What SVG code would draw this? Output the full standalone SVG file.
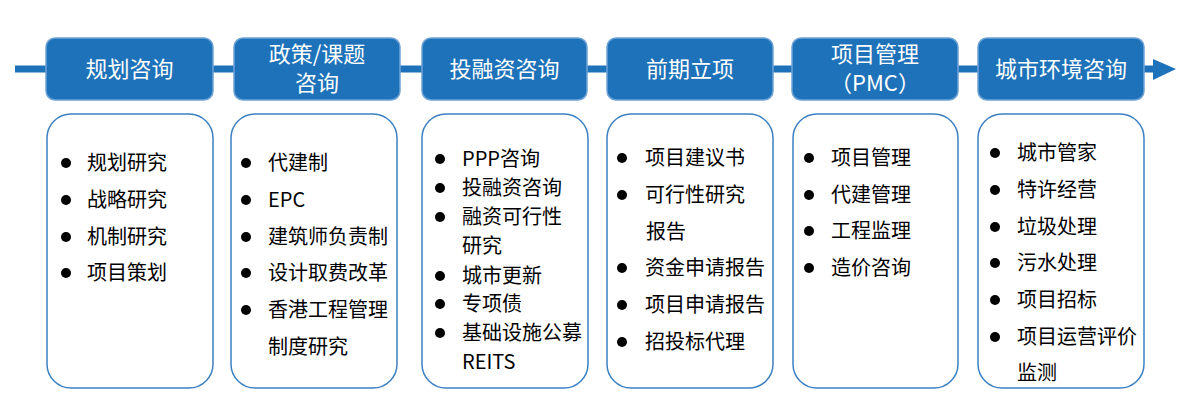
<svg xmlns="http://www.w3.org/2000/svg" width="1185" height="409" viewBox="0 0 1185 409">
<style>
.hd{fill:#1E72B9;stroke:#6FA3D6;stroke-width:1.5}
.bd{fill:#fff;stroke:#3C80C3;stroke-width:1.5}
.ht{font-family:"Noto Sans CJK SC","Microsoft YaHei",sans-serif;font-size:22px;fill:#fff;text-anchor:middle}
.bt{font-family:"Noto Sans CJK SC","Microsoft YaHei",sans-serif;font-size:20px;fill:#000}
.dot{fill:#000}
</style>
<g id="connectors">
<line x1="15" y1="69" x2="1156" y2="69" stroke="#1E72B9" stroke-width="7"/>
<polygon points="1153,59 1176,69 1153,80" fill="#1E72B9"/>
</g>
<g id="h1"><rect class="hd" x="46" y="38" width="167" height="62" rx="9"/><text class="ht" x="129.5" y="77">规划咨询</text></g>
<g id="h2"><rect class="hd" x="234" y="38" width="166" height="62" rx="9"/><text class="ht" x="317" y="62">政策/课题</text><text class="ht" x="317" y="91">咨询</text></g>
<g id="h3"><rect class="hd" x="422" y="38" width="165" height="62" rx="9"/><text class="ht" x="504.5" y="77">投融资咨询</text></g>
<g id="h4"><rect class="hd" x="607" y="38" width="166" height="62" rx="9"/><text class="ht" x="690" y="77">前期立项</text></g>
<g id="h5"><rect class="hd" x="792" y="38" width="166" height="62" rx="9"/><text class="ht" x="875" y="62">项目管理</text><text class="ht" x="875" y="91" font-size="21">（PMC）</text></g>
<g id="h6"><rect class="hd" x="978" y="38" width="166" height="62" rx="9"/><text class="ht" x="1061" y="77">城市环境咨询</text></g>

<g id="b1"><rect class="bd" x="47" y="114" width="166" height="274" rx="24"/>
<circle class="dot" cx="66" cy="163" r="5"/><text class="bt" x="87" y="170">规划研究</text>
<circle class="dot" cx="66" cy="200" r="5"/><text class="bt" x="87" y="207">战略研究</text>
<circle class="dot" cx="66" cy="237" r="5"/><text class="bt" x="87" y="244">机制研究</text>
<circle class="dot" cx="66" cy="273" r="5"/><text class="bt" x="87" y="280">项目策划</text>
</g>
<g id="b2"><rect class="bd" x="231" y="114" width="166" height="274" rx="24"/>
<circle class="dot" cx="246" cy="163" r="5"/><text class="bt" x="268" y="170">代建制</text>
<circle class="dot" cx="246" cy="200" r="5"/><text class="bt" x="268" y="207">EPC</text>
<circle class="dot" cx="246" cy="237" r="5"/><text class="bt" x="268" y="244">建筑师负责制</text>
<circle class="dot" cx="246" cy="273" r="5"/><text class="bt" x="268" y="280">设计取费改革</text>
<circle class="dot" cx="246" cy="310" r="5"/><text class="bt" x="268" y="317">香港工程管理</text>
<text class="bt" x="268" y="354">制度研究</text>
</g>
<g id="b3"><rect class="bd" x="422" y="114" width="166" height="274" rx="24"/>
<circle class="dot" cx="440" cy="159" r="5"/><text class="bt" x="462" y="166">PPP咨询</text>
<circle class="dot" cx="440" cy="188" r="5"/><text class="bt" x="462" y="195">投融资咨询</text>
<circle class="dot" cx="440" cy="217" r="5"/><text class="bt" x="462" y="224">融资可行性</text>
<text class="bt" x="462" y="253">研究</text>
<circle class="dot" cx="440" cy="276" r="5"/><text class="bt" x="462" y="283">城市更新</text>
<circle class="dot" cx="440" cy="304" r="5"/><text class="bt" x="462" y="311">专项债</text>
<circle class="dot" cx="440" cy="333" r="5"/><text class="bt" x="462" y="340">基础设施公募</text>
<text class="bt" x="462" y="369">REITS</text>
</g>
<g id="b4"><rect class="bd" x="607" y="114" width="166" height="274" rx="24"/>
<circle class="dot" cx="622" cy="158" r="5"/><text class="bt" x="645" y="165">项目建议书</text>
<circle class="dot" cx="622" cy="195" r="5"/><text class="bt" x="645" y="202">可行性研究</text>
<text class="bt" x="646" y="239">报告</text>
<circle class="dot" cx="622" cy="268" r="5"/><text class="bt" x="645" y="275">资金申请报告</text>
<circle class="dot" cx="622" cy="305" r="5"/><text class="bt" x="645" y="312">项目申请报告</text>
<circle class="dot" cx="622" cy="342" r="5"/><text class="bt" x="645" y="349">招投标代理</text>
</g>
<g id="b5"><rect class="bd" x="793" y="114" width="165" height="274" rx="24"/>
<circle class="dot" cx="809" cy="158" r="5"/><text class="bt" x="831" y="165">项目管理</text>
<circle class="dot" cx="809" cy="195" r="5"/><text class="bt" x="831" y="202">代建管理</text>
<circle class="dot" cx="809" cy="231" r="5"/><text class="bt" x="831" y="238">工程监理</text>
<circle class="dot" cx="809" cy="268" r="5"/><text class="bt" x="831" y="275">造价咨询</text>
</g>
<g id="b6"><rect class="bd" x="978" y="114" width="166" height="274" rx="24"/>
<circle class="dot" cx="995" cy="153" r="5"/><text class="bt" x="1017" y="160">城市管家</text>
<circle class="dot" cx="995" cy="190" r="5"/><text class="bt" x="1017" y="197">特许经营</text>
<circle class="dot" cx="995" cy="227" r="5"/><text class="bt" x="1017" y="234">垃圾处理</text>
<circle class="dot" cx="995" cy="263" r="5"/><text class="bt" x="1017" y="270">污水处理</text>
<circle class="dot" cx="995" cy="300" r="5"/><text class="bt" x="1017" y="307">项目招标</text>
<circle class="dot" cx="995" cy="337" r="5"/><text class="bt" x="1017" y="344">项目运营评价</text>
<text class="bt" x="1017" y="380">监测</text>
</g>
</svg>
